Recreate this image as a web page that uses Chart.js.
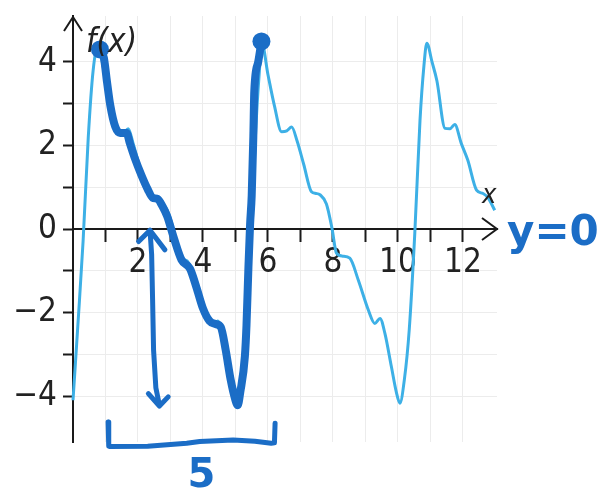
<!DOCTYPE html>
<html>
<head>
<meta charset="utf-8">
<script src="https://cdn.jsdelivr.net/npm/chart.js@4.4.1/dist/chart.umd.min.js"></script>
<style>
  html, body { margin: 0; padding: 0; background: #ffffff; }
  #wrap { width: 602px; height: 495px; position: relative; }
</style>
</head>
<body>
<div id="wrap"><canvas id="c" width="602" height="495"></canvas></div>
<script>
// ---- data ----
const curveX = [0, 0.15, 0.31, 0.47, 0.62, 0.77, 0.95, 1.15, 1.38, 1.55, 1.7, 1.85, 2.05, 2.3, 2.47, 2.62, 2.78, 2.95, 3.08, 3.25, 3.4, 3.55, 3.75, 3.96, 4.15, 4.3, 4.45, 4.6, 4.8, 4.95, 5.05, 5.2, 5.35, 5.48, 5.62, 5.72, 5.82, 6.0, 6.2, 6.42, 6.58, 6.73, 6.9, 7.1, 7.34, 7.48, 7.6, 7.8, 7.97, 8.11, 8.3, 8.52, 8.78, 9.09, 9.29, 9.45, 9.6, 9.8, 9.95, 10.06, 10.2, 10.35, 10.52, 10.68, 10.8, 10.89, 11.05, 11.2, 11.45, 11.6, 11.75, 11.95, 12.15, 12.42, 12.62, 12.77, 12.98];
const curveY = [-4.1, -2.3, -0.3, 2.2, 3.8, 4.4, 3.8, 3.0, 2.35, 2.3, 2.4, 2.05, 1.5, 0.95, 0.72, 0.68, 0.6, 0.35, 0.0, -0.55, -0.72, -0.8, -1.2, -1.75, -2.15, -2.3, -2.2, -2.5, -3.2, -3.9, -4.2, -3.5, -2.2, -0.2, 2.3, 3.6, 4.42, 3.7, 2.95, 2.33, 2.35, 2.44, 2.1, 1.55, 0.89, 0.85, 0.82, 0.6, 0.02, -0.58, -0.65, -0.7, -1.22, -1.94, -2.26, -2.14, -2.5, -3.3, -3.9, -4.17, -3.6, -2.4, -0.1, 2.6, 3.9, 4.45, 4.0, 3.55, 2.41, 2.4, 2.5, 2.05, 1.65, 0.93, 0.85, 0.75, 0.45];

// hand-drawn trace over one period
const traceX = [0.83, 0.95, 1.05, 1.15, 1.3, 1.45, 1.65, 1.75, 1.9, 2.1, 2.3, 2.45, 2.6, 2.75, 2.9, 3.09, 3.34, 3.6, 3.8, 4.0, 4.2, 4.4, 4.55, 4.7, 4.85, 5.0, 5.07, 5.15, 5.29, 5.34, 5.4, 5.45, 5.5, 5.55, 5.58, 5.7, 5.8];
const traceY = [4.3, 4.1, 3.5, 2.95, 2.45, 2.3, 2.3, 2.05, 1.7, 1.3, 0.95, 0.75, 0.72, 0.55, 0.3, -0.18, -0.74, -0.95, -1.4, -1.9, -2.2, -2.28, -2.35, -2.9, -3.6, -4.1, -4.22, -3.9, -3.05, -2.3, -0.9, 0.1, 0.8, 2.2, 3.3, 4.0, 4.49];

// hand-drawn peak dots
const peakX = [0.83, 5.8];
const peakY = [4.3, 4.49];

// hand-drawn double arrow (null = pen lifted)
const arrowX = [2.37, 2.42, 2.45, 2.48, 2.55, 2.66, 2.66, 2.02, 2.37, 2.83, 2.83, 2.32, 2.66, 2.93];
const arrowY = [-0.03, -0.6, -1.7, -2.9, -3.8, -4.22, null, -0.3, -0.03, -0.5, null, -3.94, -4.24, -4.02];

// hand-drawn bracket
const bracketX = [1.08, 1.1, 1.14, 2.3, 3.5, 3.9, 4.93, 5.6, 6.1, 6.2, 6.22];
const bracketY = [-4.62, -5.2, -5.21, -5.2, -5.13, -5.09, -5.05, -5.08, -5.13, -5.12, -4.65];

// tick labels
const xTickValues = [2, 4, 6, 8, 10, 12];
const xTickLabels = ['2', '4', '6', '8', '10', '12'];
const yTickValues = [4, 2, 0, -2, -4];
const yTickLabels = ['4', '2', '0', '\u22122', '\u22124'];

// handwritten notes
const periodNote = '5';
const zeroNote = 'y=0';
const yAxisName = 'f(x)';
const xAxisName = 'x';

// ---- build ----
const pts = (xs, ys) => xs.map((x, i) => ({ x: x, y: ys[i] }));
const LIGHT = '#3db0e6';
const PEN = '#1b6dc6';
const TICKFONT = '"Liberation Sans Narrow", "DejaVu Sans Condensed", "Liberation Sans", sans-serif';
const isInt = v => Math.abs(v - Math.round(v)) < 1e-6;
const noPad = s => { s.paddingTop = 0; s.paddingBottom = 0; s.paddingLeft = 0; s.paddingRight = 0; };

const decor = {
  id: 'decor',
  afterDatasetsDraw(chart) {
    const ctx = chart.ctx;
    const xs = chart.scales.x, ys = chart.scales.y;
    const x0 = xs.getPixelForValue(0), y0 = ys.getPixelForValue(0);
    const xEnd = xs.right, yTop = ys.top;
    ctx.save();
    // axis arrow heads
    ctx.strokeStyle = '#1a1a1a';
    ctx.lineWidth = 2;
    ctx.beginPath();
    ctx.moveTo(x0 - 9, yTop + 15); ctx.lineTo(x0, yTop + 1); ctx.lineTo(x0 + 9, yTop + 15);
    ctx.stroke();
    ctx.beginPath();
    ctx.moveTo(xEnd - 15, y0 - 11); ctx.lineTo(xEnd, y0); ctx.lineTo(xEnd - 15, y0 + 11);
    ctx.stroke();
    // axis names
    ctx.fillStyle = '#222';
    ctx.textBaseline = 'alphabetic';
    ctx.textAlign = 'left';
    ctx.font = 'italic 33px ' + TICKFONT;
    ctx.fillText(yAxisName, x0 + 13, yTop + 36);
    ctx.font = 'italic 27px ' + TICKFONT;
    ctx.fillText(xAxisName, xEnd - 15, y0 - 26);
    // handwritten notes
    ctx.fillStyle = PEN;
    ctx.font = 'bold 42px "DejaVu Sans", sans-serif';
    ctx.textAlign = 'left';
    ctx.fillText(zeroNote, xEnd + 10, y0 + 16);
    ctx.font = 'bold 40px "DejaVu Sans", sans-serif';
    ctx.textAlign = 'center';
    ctx.fillText(periodNote, xs.getPixelForValue(3.95), ys.bottom + 45);
    ctx.restore();
  }
};

new Chart(document.getElementById('c'), {
  type: 'line',
  data: {
    datasets: [
      { label: 'f(x)', data: pts(curveX, curveY), borderColor: LIGHT, borderWidth: 3,
        pointRadius: 0, cubicInterpolationMode: 'monotone', order: 5, clip: false },
      { label: 'trace', data: pts(traceX, traceY), borderColor: PEN, borderWidth: 8,
        borderCapStyle: 'round', borderJoinStyle: 'round',
        pointRadius: 0, cubicInterpolationMode: 'monotone', order: 3, clip: false },
      { label: 'peaks', data: pts(peakX, peakY), showLine: false, pointRadius: 9,
        pointBackgroundColor: PEN, pointBorderColor: PEN, pointBorderWidth: 0, order: 1, clip: false },
      { label: 'arrow', data: pts(arrowX, arrowY), borderColor: PEN, borderWidth: 5,
        borderCapStyle: 'round', borderJoinStyle: 'round', spanGaps: false,
        pointRadius: 0, tension: 0, order: 2, clip: false },
      { label: 'bracket', data: pts(bracketX, bracketY), borderColor: PEN, borderWidth: 5,
        borderCapStyle: 'round', borderJoinStyle: 'round',
        pointRadius: 0, tension: 0, order: 2, clip: false }
    ]
  },
  options: {
    responsive: false,
    animation: false,
    layout: { padding: { left: 0, top: 16, right: 105, bottom: 53 } },
    plugins: { legend: { display: false }, tooltip: { enabled: false } },
    scales: {
      x: {
        type: 'linear',
        position: { y: 0 },
        min: 0, max: 13.05,
        afterBuildTicks: s => { s.ticks = s.ticks.filter(t => isInt(t.value)); },
        afterFit: noPad,
        ticks: {
          stepSize: 1, autoSkip: false, maxRotation: 0, padding: 3,
          color: '#222',
          font: { family: TICKFONT, size: 33 },
          callback: v => { const i = xTickValues.indexOf(Math.round(v)); return (isInt(v) && i >= 0) ? xTickLabels[i] : ''; }
        },
        grid: {
          color: '#ececec', lineWidth: 1, drawTicks: true, tickLength: 12, tickWidth: 2,
          tickColor: c => (c.tick && (c.tick.value === 0 || c.tick.value >= 13)) ? 'rgba(0,0,0,0)' : '#1a1a1a'
        },
        border: { display: true, color: '#1a1a1a', width: 2 }
      },
      y: {
        type: 'linear',
        position: 'left',
        min: -5.1, max: 5.1,
        afterBuildTicks: s => { s.ticks = s.ticks.filter(t => isInt(t.value)); },
        afterFit: s => { s.width = 73; noPad(s); },
        ticks: {
          stepSize: 1, autoSkip: false, padding: 6,
          color: '#222',
          font: { family: TICKFONT, size: 33 },
          callback: v => { const i = yTickValues.indexOf(Math.round(v)); return (isInt(v) && i >= 0) ? yTickLabels[i] : ''; }
        },
        grid: {
          color: '#ececec', lineWidth: 1, drawTicks: true, tickLength: 10, tickWidth: 2,
          tickColor: c => (c.tick && Math.abs(c.tick.value) >= 5) ? 'rgba(0,0,0,0)' : '#1a1a1a'
        },
        border: { display: true, color: '#1a1a1a', width: 2 }
      }
    }
  },
  plugins: [decor]
});
</script>
</body>
</html>
